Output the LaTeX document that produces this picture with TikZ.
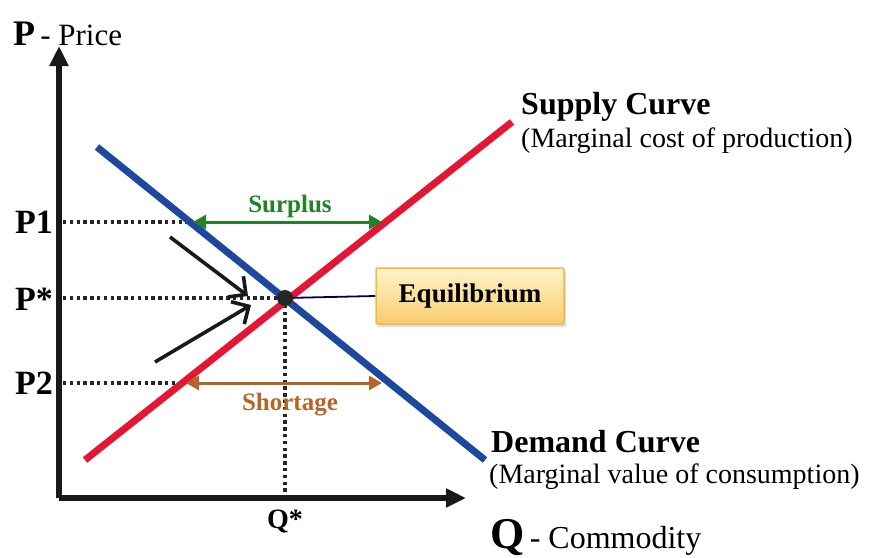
\documentclass[tikz,border=0pt]{standalone}
\usepackage{fontspec}
\setmainfont{Liberation Serif}
\usetikzlibrary{arrows.meta,shadows}
\definecolor{dblue}{RGB}{28,72,160}
\definecolor{sred}{RGB}{228,22,52}
\definecolor{sgreen}{RGB}{34,130,40}
\definecolor{sbrown}{RGB}{180,102,40}
\definecolor{boxtop}{RGB}{255,243,200}
\definecolor{boxbot}{RGB}{247,205,110}
\definecolor{boxedge}{RGB}{238,185,70}
\tikzset{
  axisline/.style={line width=5.5pt,draw=black!90,-{Triangle[length=20pt,width=18pt]}},
  guide/.style={line width=3.8pt,dash pattern=on 3.4pt off 3.4pt,draw=black!85},
  curve/.style={line width=7pt},
  gap/.style={line width=3pt,{Triangle[length=13pt,width=14pt]}-{Triangle[length=13pt,width=14pt]}},
  push/.style={line width=3.6pt,draw=black!90,-{Straight Barb[length=13pt,width=26pt,line width=3.6pt]}},
  lbl/.style={font=\fontsize{34}{36}\selectfont\bfseries,inner sep=0pt},
  note/.style={font=\fontsize{28}{30}\selectfont,inner sep=0pt,anchor=base west},
  head/.style={font=\fontsize{32}{34}\selectfont\bfseries,inner sep=0pt,anchor=base west},
}
\begin{document}
\begin{tikzpicture}[x=1pt,y=-1pt]
\useasboundingbox[fill=white] (0,0) rectangle (890,557);
% axes
\coordinate (O) at (59,498);
\coordinate (ytop) at (59,46);
\coordinate (xend) at (466,498);
\draw[axisline] (O) -- (ytop);
\draw[axisline] (O) -- (xend);
\node[anchor=base west,inner sep=0pt] (plab) at (13,45) {\fontsize{36}{38}\selectfont\bfseries P\fontsize{31}{33}\selectfont\mdseries\,- Price};
\node[anchor=base west,inner sep=0pt] (qlab) at (490,548) {\fontsize{44}{46}\selectfont\bfseries Q\fontsize{32}{34}\selectfont\mdseries\,- Commodity};
% key points
\coordinate (E) at (285,298);
\coordinate (p1) at (63,222);
\coordinate (ps) at (63,298);
\coordinate (p2) at (63,383);
\coordinate (qs) at (285,495);
\coordinate (d1) at (190,222);
\coordinate (s2) at (182,383);
% guides
\draw[guide] (p1) -- (d1);
\draw[guide] (ps) -- (E);
\draw[guide] (p2) -- (s2);
\draw[guide] (E) -- (qs);
% curves
\coordinate (dA) at (97,147);
\coordinate (dB) at (485,460);
\coordinate (sA) at (85,460);
\coordinate (sB) at (512,122);
\draw[curve,draw=sred] (sA) -- (sB);
\draw[curve,draw=dblue] (dA) -- (dB);
% surplus / shortage
\draw[gap,draw=sgreen,fill=sgreen] (193,222) -- (382,222);
\node[font=\fontsize{25}{26}\selectfont\bfseries,text=sgreen] (surplus) at (290,206) {Surplus};
\draw[gap,draw=sbrown,fill=sbrown] (186,383) -- (382,383);
\node[font=\fontsize{25}{26}\selectfont\bfseries,text=sbrown] (shortage) at (290,405) {Shortage};
% push arrows
\coordinate (a1s) at (170,237);
\coordinate (a1e) at (248,296);
\coordinate (a2s) at (155,362);
\coordinate (a2e) at (251,305);
\draw[push] (a1s) -- (a1e);
\draw[push] (a2s) -- (a2e);
% equilibrium
\node[draw=boxedge,line width=1.5pt,top color=boxtop,bottom color=boxbot,rounded corners=1.5pt,
  minimum width=188pt,minimum height=56pt,drop shadow={opacity=0.25,shadow xshift=2pt,shadow yshift=-3pt},
  font=\fontsize{27}{29}\selectfont\bfseries] (eq) at (470,296) {Equilibrium};
\draw[line width=1.8pt,draw=black!70!blue] (E) -- (eq.west);
\fill[black!85] (E) circle (8pt);
% axis labels
\node[lbl,anchor=east] (P1) at (53,222) {P1};
\node[lbl,anchor=east] (Pstar) at (53,299) {P*};
\node[lbl,anchor=east] (P2) at (53,383) {P2};
\node[lbl,font=\fontsize{28}{30}\selectfont\bfseries] (Qstar) at (285,521) {Q*};
% curve labels
\node[head] (supply) at (521,114) {Supply Curve};
\node[note] (supplynote) at (521,147) {(Marginal cost of production)};
\node[head] (demand) at (491,452) {Demand Curve};
\node[note] (demandnote) at (489,483) {(Marginal value of consumption)};
\end{tikzpicture}
\end{document}
